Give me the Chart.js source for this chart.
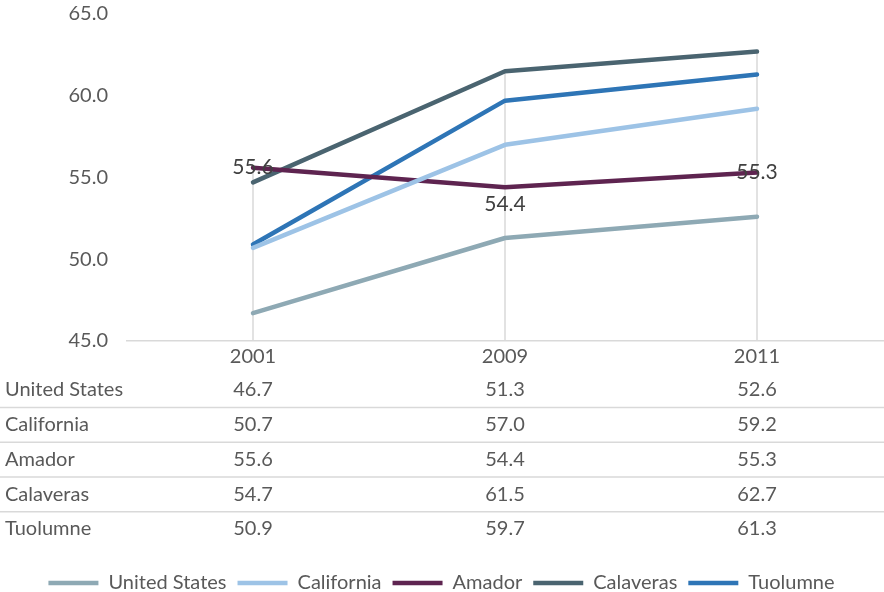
<!DOCTYPE html>
<html>
<head>
<meta charset="utf-8">
<script src="https://cdn.jsdelivr.net/npm/chart.js@4.4.1/dist/chart.umd.min.js"></script>
<style>
  html, body { margin: 0; padding: 0; background: #fff; }
</style>
</head>
<body>
<canvas id="chart" width="884" height="592"></canvas>
<script>
// data
const years = ["2001", "2009", "2011"];
const regions = ["United States", "California", "Amador", "Calaveras", "Tuolumne"];
const unitedStates = [46.7, 51.3, 52.6];
const california = [50.7, 57.0, 59.2];
const amador = [55.6, 54.4, 55.3];
const calaveras = [54.7, 61.5, 62.7];
const tuolumne = [50.9, 59.7, 61.3];
const yTicks = [45, 50, 55, 60, 65];

const seriesValues = [unitedStates, california, amador, calaveras, tuolumne];
const colours = ["#8EA9B4", "#9DC3E6", "#5E2450", "#4A6470", "#2E75B6"];
const amadorLabelPos = ["center", "below", "center"];

const FONT = "Lato";
const FS = 20;
const TEXT = "#595959";
const GRID = "#d9d9d9";

// vertical drop lines from the highest point of each year down to the axis
const dropLines = {
    id: "dropLines",
    beforeDatasetsDraw(chart) {
        const { ctx, chartArea, scales } = chart;
        ctx.save();
        ctx.strokeStyle = GRID;
        ctx.lineWidth = 1.5;
        years.forEach((y, i) => {
            const top = Math.max(...seriesValues.map(s => s[i]));
            const x = scales.x.getPixelForValue(i);
            ctx.beginPath();
            ctx.moveTo(x, scales.y.getPixelForValue(top));
            ctx.lineTo(x, chartArea.bottom);
            ctx.stroke();
        });
        ctx.restore();
    }
};

// value labels on the Amador line only
const amadorLabels = {
    id: "amadorLabels",
    afterDatasetsDraw(chart) {
        const { ctx, scales } = chart;
        ctx.save();
        ctx.font = (FS + 1) + "px " + FONT;
        ctx.fillStyle = "#404040";
        ctx.textAlign = "center";
        ctx.textBaseline = "middle";
        amador.forEach((v, i) => {
            const x = scales.x.getPixelForValue(i);
            let y = scales.y.getPixelForValue(v);
            if (amadorLabelPos[i] === "below") y += 17;
            ctx.fillText(v.toFixed(1), x, y);
        });
        ctx.restore();
    }
};

// data table under the x axis
const dataTable = {
    id: "dataTable",
    afterDraw(chart) {
        const { ctx, chartArea, scales } = chart;
        const rowH = 34.75;
        const firstRow = chartArea.bottom + 49;
        ctx.save();
        ctx.font = FS + "px " + FONT;
        ctx.fillStyle = TEXT;
        ctx.textBaseline = "middle";
        ctx.strokeStyle = GRID;
        ctx.lineWidth = 1.5;
        regions.forEach((name, r) => {
            const y = firstRow + r * rowH;
            ctx.textAlign = "left";
            ctx.fillText(name, 5, y);
            ctx.textAlign = "center";
            seriesValues[r].forEach((v, i) => {
                ctx.fillText(v.toFixed(1), scales.x.getPixelForValue(i), y);
            });
            if (r < regions.length - 1) {
                ctx.beginPath();
                ctx.moveTo(0, y + rowH / 2);
                ctx.lineTo(chart.width, y + rowH / 2);
                ctx.stroke();
            }
        });
        ctx.restore();
    }
};

new Chart("chart", {
    type: "line",
    data: {
        labels: years,
        datasets: regions.map((name, i) => ({
            label: name,
            data: seriesValues[i],
            borderColor: colours[i],
            backgroundColor: colours[i],
            borderWidth: 4.5,
            borderCapStyle: "round",
            borderJoinStyle: "round",
            pointRadius: 0,
            tension: 0
        }))
    },
    options: {
        responsive: false,
        animation: false,
        layout: { padding: { top: 0, right: 1, left: 0, bottom: -11 } },
        plugins: {
            tooltip: { enabled: false },
            legend: {
                position: "bottom",
                labels: {
                    usePointStyle: true,
                    pointStyle: "line",
                    pointStyleWidth: 50,
                    padding: 11,
                    color: TEXT,
                    font: { family: FONT, size: FS }
                }
            }
        },
        scales: {
            x: {
                offset: true,
                grid: { display: false, drawTicks: false },
                border: { color: GRID, width: 1.5 },
                ticks: { color: TEXT, padding: 4, font: { family: FONT, size: FS } },
                afterFit(s) { s.height = 221; }
            },
            y: {
                min: yTicks[0],
                max: yTicks[yTicks.length - 1],
                afterBuildTicks(s) { s.ticks = yTicks.map(v => ({ value: v })); },
                grid: { display: false, drawTicks: false },
                border: { display: false },
                ticks: {
                    color: TEXT,
                    padding: 19,
                    font: { family: FONT, size: FS },
                    callback: v => v.toFixed(1)
                },
                afterFit(s) {
                    s.width = 127;
                    s.paddingTop = 14;
                    s.paddingBottom = 0;
                }
            }
        }
    },
    plugins: [dropLines, amadorLabels, dataTable]
});
</script>
</body>
</html>
